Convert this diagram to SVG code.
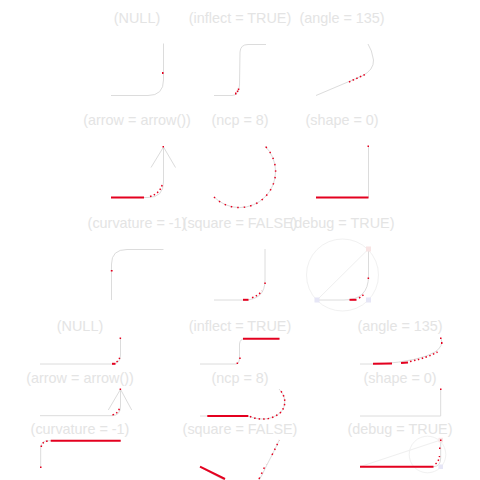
<svg xmlns="http://www.w3.org/2000/svg" width="480" height="480" viewBox="0 0 480 480">
<style>
.t{font-family:"Liberation Sans",Arial,sans-serif;font-size:14.4px;fill:#e4e4e4;text-anchor:middle}
.g{fill:none;stroke:#dcdcdc;stroke-width:1}
.r{fill:none;stroke:#e4001f;stroke-width:2}
.rd{fill:none;stroke:#e4001f;stroke-width:1.5;stroke-dasharray:1.5 2.5}
.c{fill:none;stroke:#f1f1f1;stroke-width:1}
.dl{fill:none;stroke:#efefef;stroke-width:1}
.sq1{fill:#e6e6f6}
.sq2{fill:#f8e4e4}
.dot{fill:#e4001f}
</style>
<rect width="480" height="480" fill="#ffffff"/>
<g id="labels">
<text class="t" x="137" y="23">(NULL)</text>
<text class="t" x="240" y="23">(inflect = TRUE)</text>
<text class="t" x="342" y="23">(angle = 135)</text>
<text class="t" x="137" y="125">(arrow = arrow())</text>
<text class="t" x="240" y="125">(ncp = 8)</text>
<text class="t" x="342" y="125">(shape = 0)</text>
<text class="t" x="137" y="228">(curvature = -1)</text>
<text class="t" x="240" y="228">(square = FALSE)</text>
<text class="t" x="342" y="228">(debug = TRUE)</text>
<text class="t" x="80" y="331">(NULL)</text>
<text class="t" x="240" y="331">(inflect = TRUE)</text>
<text class="t" x="400" y="331">(angle = 135)</text>
<text class="t" x="80" y="383">(arrow = arrow())</text>
<text class="t" x="240" y="383">(ncp = 8)</text>
<text class="t" x="400" y="383">(shape = 0)</text>
<text class="t" x="80" y="434">(curvature = -1)</text>
<text class="t" x="240" y="434">(square = FALSE)</text>
<text class="t" x="400" y="434">(debug = TRUE)</text>
</g>
<g id="connectors">
<g id="p-null">
<path class="g" d="M111,95.5 L148,95.5 Q163.5,95.5 163.5,80 L163.5,43.5"/>
<rect class="dot" x="162" y="72" width="1.5" height="2"/>
</g>
<g id="p-inflect">
<path class="g" d="M214,95.5 L232,95.5 Q239,95.5 239.5,85 L240,52 Q240.5,44.5 248,44.5 L266,44.5"/>
<rect class="dot" x="235" y="92.5" width="1.5" height="2"/>
<rect class="dot" x="236.8" y="90.5" width="1.5" height="1.5"/>
<rect class="dot" x="237.8" y="88.5" width="1.5" height="1.5"/>
</g>
<g id="p-angle">
<path class="g" d="M316,95.5 L362,76 Q374,70 373.5,60 Q372,50 368,44"/>
<path class="rd" d="M349,82 L365,74.5"/>
</g>
<g id="p-arrow">
<path class="g" d="M111,197.5 L148,197.5 Q163.5,197.5 163.5,182 L163.5,147"/>
<path class="g" d="M151,167.5 L163.5,147 L175.5,167.5"/>
<path class="r" d="M111,197.5 L144,197.5"/>
<path class="rd" d="M150,196.5 Q161,193 162.5,183"/>
<rect class="dot" x="162.5" y="146" width="1.5" height="1.5"/>
</g>
<g id="p-ncp">
<path class="g" d="M214,197 A35,35 0 1 0 265,146"/>
<path class="rd" style="stroke-dasharray:1.5 5" d="M214,197 A35,35 0 1 0 265,146"/>
</g>
<g id="p-shape">
<path class="g" d="M316,197.5 L368.5,197.5 L368.5,146"/>
<path class="r" d="M316,197.5 L368.5,197.5"/>
<rect class="dot" x="367.5" y="145.5" width="1.5" height="1.5"/>
</g>
<g id="p-curvature">
<path class="g" d="M111.5,300 L111.5,264 Q111.5,249.5 127,249.5 L163.5,249.5"/>
<rect class="dot" x="110.8" y="270" width="1.8" height="1.5"/>
</g>
<g id="p-square">
<path class="g" d="M214,300 L244,300 Q265,300 265,280 L265,249"/>
<path class="r" d="M243,299.8 L248.5,299.8"/>
<path class="rd" d="M252,297.8 Q259,295 262,291"/>
<rect class="dot" x="264.3" y="282.5" width="1.5" height="1.5"/>
</g>
<g id="p-debug">
<circle class="c" cx="342.5" cy="275" r="36"/>
<path class="dl" d="M317,300 L368.5,249"/>
<path class="g" d="M317,300 L344,300 Q368.5,300 368.5,276 L368.5,249"/>
<rect class="sq1" x="314.5" y="297.5" width="5" height="5"/>
<rect class="sq1" x="366" y="297.5" width="5" height="5"/>
<rect class="sq2" x="366" y="246.5" width="5" height="5"/>
<path class="r" d="M349.5,299.8 L356.5,299.8"/>
<path class="rd" d="M359,298 Q363,296 364.5,293"/>
<rect class="dot" x="367.6" y="277.5" width="1.5" height="1.5"/>
</g>
<g id="q-null">
<path class="g" d="M40,364 L112,364 Q120.5,364 120.5,355 L120.5,338"/>
<path class="r" d="M112,363.8 L115.5,363.8"/>
<path class="rd" d="M116.5,362 Q119.5,360 120,356"/>
<rect class="dot" x="119.6" y="337.5" width="1.5" height="1.5"/>
</g>
<g id="q-inflect">
<path class="g" d="M200,364 L236,364 Q239.5,364 239.5,357 L239.5,344 Q240,338.7 245,338.7 L279.5,338.7"/>
<path class="r" d="M243,338.7 L279.5,338.7"/>
<rect class="dot" x="236.6" y="362.5" width="1.5" height="1.5"/>
<rect class="dot" x="239.2" y="357.5" width="1.5" height="1.5"/>
</g>
<g id="q-angle">
<path class="g" d="M360,364 L380,364 Q420,361 435,352 Q444,346 441,338"/>
<path class="r" d="M373,363.8 L392,363.5"/>
<path class="r" d="M401,363 L408,362.4"/>
<path class="rd" d="M410,361.5 Q428,357.5 437.5,352"/>
<rect class="dot" x="441" y="342" width="1.5" height="2"/>
<rect class="dot" x="440" y="337.5" width="1.5" height="1.5"/>
</g>
<g id="q-arrow">
<path class="g" d="M40,415.7 L112,415.7 Q120.5,415.7 120.5,406 L120.5,389.3"/>
<path class="g" d="M108.3,410 L120.5,389.3 L131.7,410"/>
<path class="rd" d="M112.5,415 Q118.5,413 119.5,408"/>
<rect class="dot" x="119.6" y="388.5" width="1.5" height="1.5"/>
</g>
<g id="q-ncp">
<path class="g" d="M200,416 L248,416 C258,420 270,421 280,413 C287,406 286,396 279,389"/>
<path class="r" d="M207.3,416 L248.3,416"/>
<path class="rd" style="stroke-dasharray:1.5 3" d="M250,416.5 C258,420 270,421 280,413 C287,406 286,396 279,389"/>
</g>
<g id="q-shape">
<path class="g" d="M360,416 L440.7,416 L440.7,389.3"/>
<rect class="dot" x="440" y="388.5" width="1.5" height="1.5"/>
</g>
<g id="q-curvature">
<path class="g" d="M40.7,467.3 L40.7,448 Q40.7,440.7 49,440.7 L120.7,440.7"/>
<path class="r" d="M50.7,440.7 L120.7,440.7"/>
<path class="rd" d="M41.2,447 Q42,441.5 48,440.9"/>
<rect class="dot" x="40" y="466.5" width="1.5" height="1.5"/>
</g>
<g id="q-square">
<path class="g" d="M200,467 C230,483 250,498 262,475 C268,462 274,452 279.3,440"/>
<path class="r" d="M200,466.7 L225,479"/>
<path class="rd" style="stroke-dasharray:1.5 4" d="M259,479 C262,473 264,468 266,464"/>
<path class="rd" style="stroke-dasharray:1.5 4" d="M272,455 C275,449 277,445 279.3,440"/>
</g>
<g id="q-debug">
<circle class="c" cx="427.5" cy="454.5" r="18.3"/>
<path class="dl" d="M360,466.7 L440.7,440"/>
<path class="g" d="M360,466.7 L433,466.7 Q440.7,466.7 440.7,458 L440.7,440"/>
<rect class="sq1" x="438.5" y="464.5" width="4.5" height="4.5"/>
<rect class="sq2" x="438.5" y="437.8" width="4.5" height="4.5"/>
<path class="r" d="M360,466.7 L433.5,466.7"/>
<path class="rd" d="M435.5,464 Q439,461 439.5,456"/>
<rect class="dot" x="439" y="447.5" width="1.5" height="1.5"/>
<rect class="dot" x="440" y="439.5" width="1.5" height="1.5"/>
</g>
</g>
</svg>
